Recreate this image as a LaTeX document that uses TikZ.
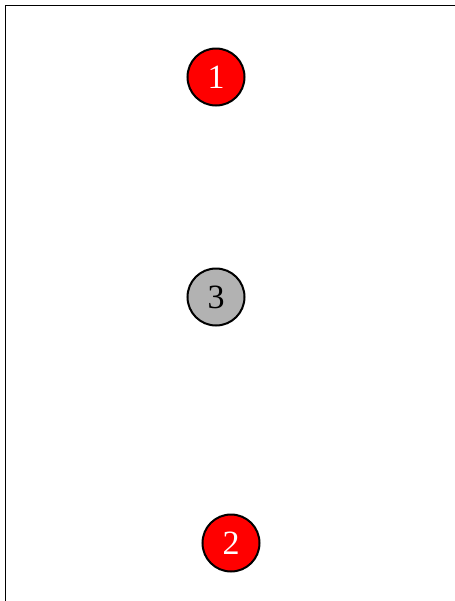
\documentclass[tikz,border=0pt]{standalone}
\usepackage{fontspec}
\setmainfont{Liberation Serif}
\usetikzlibrary{positioning}

\tikzset{
  state/.style={circle,draw=black,line width=1pt,minimum size=28.5pt,inner sep=0pt,
    font=\fontsize{17}{17}\selectfont},
  hot/.style={state,fill=red,text=white},
  idle/.style={state,fill=black!30,text=black}
}

\begin{document}
\begin{tikzpicture}[x=0.5pt,y=-0.5pt]
  \useasboundingbox (0,0) rectangle (455,601);
  \draw[line width=0.75pt] (5.5,601) -- (5.5,5.5) -- (455,5.5);

  \node[hot] (n1) at (216,77) {1};
  \node[idle] (n3) at (216,297) {3};
  \node[hot] (n2) at (231,543) {2};
\end{tikzpicture}
\end{document}
